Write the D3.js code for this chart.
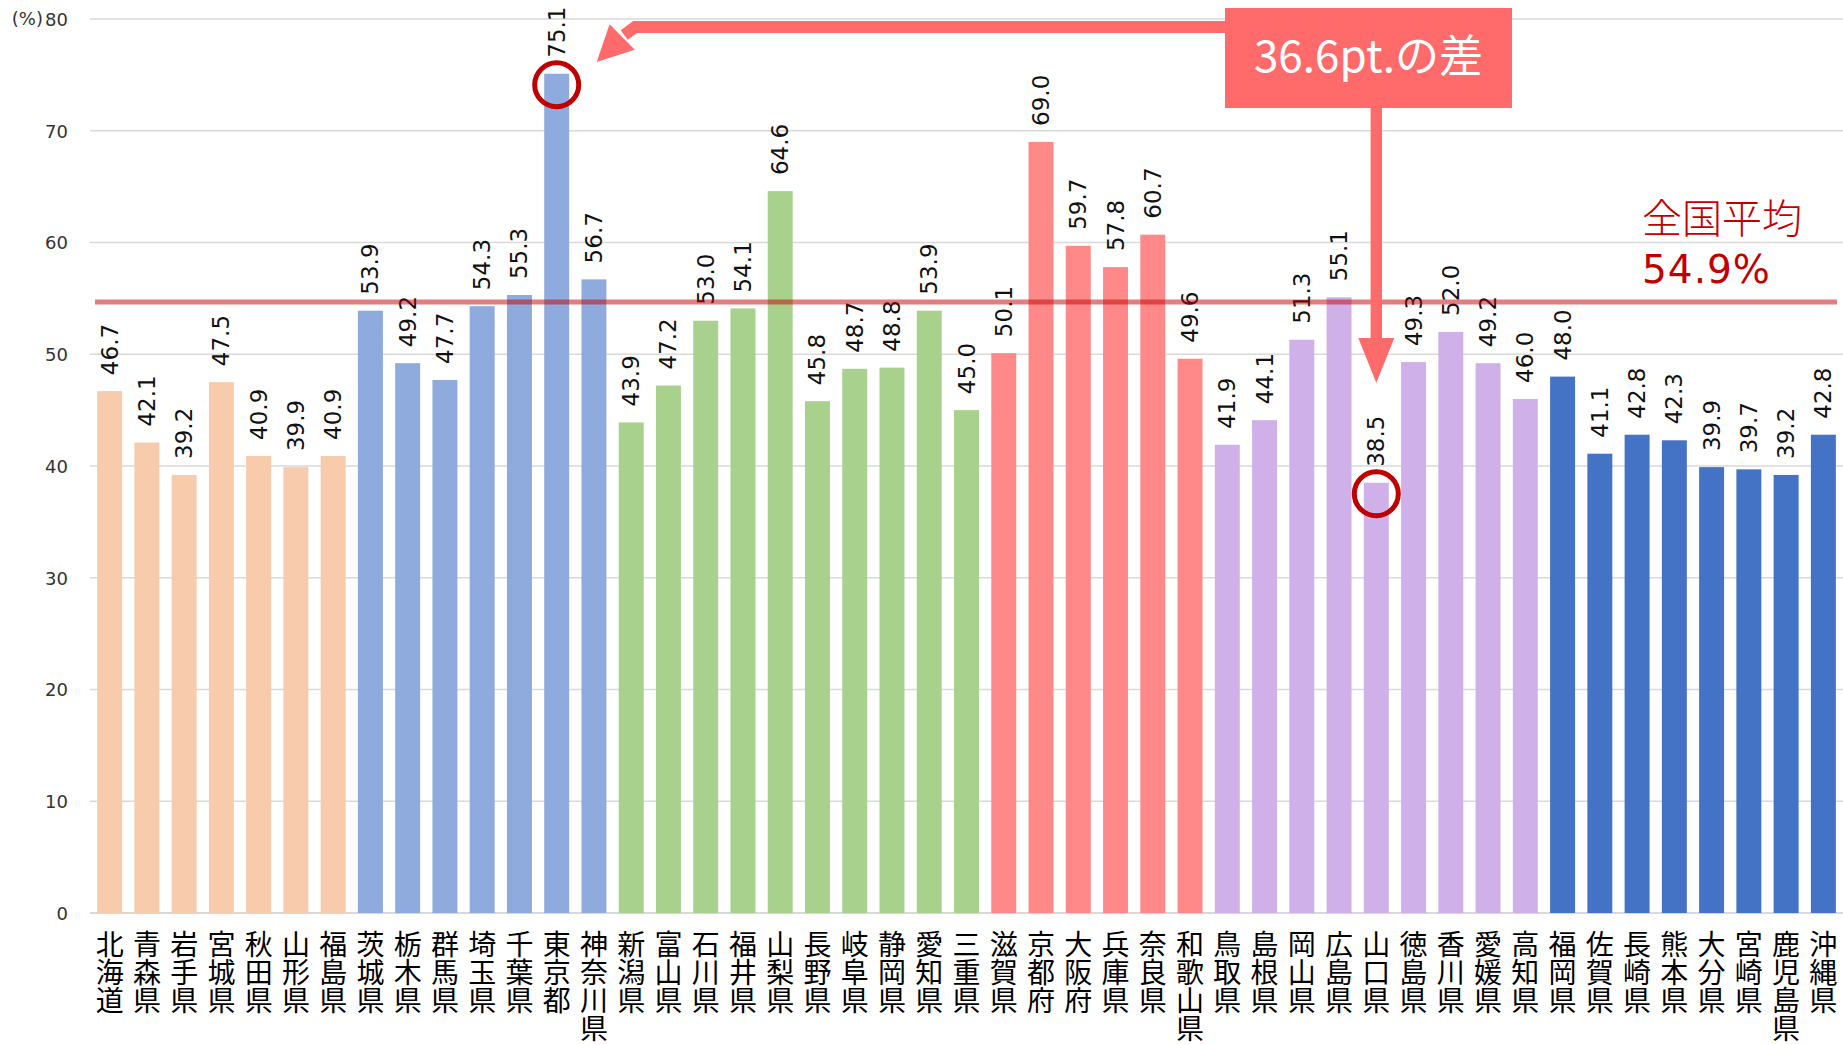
<!DOCTYPE html>
<html><head><meta charset="utf-8">
<script src="https://cdn.jsdelivr.net/npm/d3@7"></script>
<style>
html,body{margin:0;padding:0;background:#fff;}
svg{display:block;}
</style></head>
<body>
<svg id="chart" width="1843" height="1045"></svg>
<script>
// ---- data ----
const prefectures = ["北海道","青森県","岩手県","宮城県","秋田県","山形県","福島県",
  "茨城県","栃木県","群馬県","埼玉県","千葉県","東京都","神奈川県",
  "新潟県","富山県","石川県","福井県","山梨県","長野県","岐阜県","静岡県","愛知県","三重県",
  "滋賀県","京都府","大阪府","兵庫県","奈良県","和歌山県",
  "鳥取県","島根県","岡山県","広島県","山口県","徳島県","香川県","愛媛県","高知県",
  "福岡県","佐賀県","長崎県","熊本県","大分県","宮崎県","鹿児島県","沖縄県"];
const values = [46.7,42.1,39.2,47.5,40.9,39.9,40.9,
  53.9,49.2,47.7,54.3,55.3,75.1,56.7,
  43.9,47.2,53.0,54.1,64.6,45.8,48.7,48.8,53.9,45.0,
  50.1,69.0,59.7,57.8,60.7,49.6,
  41.9,44.1,51.3,55.1,38.5,49.3,52.0,49.2,46.0,
  48.0,41.1,42.8,42.3,39.9,39.7,39.2,42.8];
const regionSizes = [7,7,10,6,9,8];
const regionColors = ["#F8CBAD","#8FAADC","#A9D18E","#FF8989","#D0B0E8","#4472C4"];
const yTicks = [0,10,20,30,40,50,60,70,80];
const nationalAverage = 54.9;
const averageLabel = ["全国平均","54.9%"];
const highlight = ["東京都","山口県"];
const gapLabel = "36.6pt.の差";

// region index per prefecture
const regionOf = [];
regionSizes.forEach((n,i)=>{ for(let k=0;k<n;k++) regionOf.push(i); });

const data = prefectures.map((p,i)=>({name:p, value:values[i], region:regionOf[i]}));

// ---- layout ----
const svg = d3.select("#chart");
const plotLeft = 91, plotRight = 1842, plotTop = 19, plotBottom = 913;

const x = d3.scaleBand().domain(prefectures).range([plotLeft, plotRight])
  .paddingInner(0.33).paddingOuter(0.165);
const y = d3.scaleLinear().domain([0,80]).range([plotBottom, plotTop]);

// gridlines
svg.append("g").selectAll("line").data(yTicks).join("line")
  .attr("x1", 90).attr("x2", 1843)
  .attr("y1", d=>y(d)).attr("y2", d=>y(d))
  .attr("stroke", "#D9D9D9").attr("stroke-width", d=>d===0?2:1.5);

// y axis labels
const yAxis = d3.axisLeft(y).tickValues(yTicks).tickSize(0).tickPadding(0);
const gy = svg.append("g").attr("transform","translate(68,0)").call(yAxis);
gy.select(".domain").remove();
gy.selectAll("text").attr("font-family","'DejaVu Sans', sans-serif")
  .attr("font-size", 18).attr("fill","#333").attr("dy","0.35em");
svg.append("text").attr("x", 43).attr("y", y(80)).attr("dy","0.35em")
  .attr("text-anchor","end").attr("font-family","'DejaVu Sans', sans-serif")
  .attr("font-size", 18).attr("fill","#333").text("(%)");

// bars
svg.append("g").selectAll("rect").data(data).join("rect")
  .attr("x", d=>x(d.name)).attr("width", x.bandwidth())
  .attr("y", d=>y(d.value)).attr("height", d=>y(0)-y(d.value))
  .attr("fill", d=>regionColors[d.region]);

// value labels
svg.append("g").selectAll("text").data(data).join("text")
  .attr("transform", d=>`translate(${x(d.name)+x.bandwidth()/2},${y(d.value)-16}) rotate(-90)`)
  .attr("text-anchor","start").attr("dominant-baseline","central")
  .attr("font-family","'DejaVu Sans', sans-serif").attr("font-size", 23)
  .attr("fill","#111").text(d=>d.value.toFixed(1));

// category labels (vertical)
const xAxis = d3.axisBottom(x).tickSize(0).tickPadding(0);
const gx = svg.append("g").attr("transform",`translate(0,${plotBottom})`).call(xAxis);
gx.select(".domain").remove();
gx.selectAll("text")
  .attr("y", 17).attr("dy", 0).attr("x", 0)
  .attr("text-anchor","start")
  .style("writing-mode","vertical-rl")
  .attr("font-family","'Noto Sans CJK JP', sans-serif")
  .attr("font-size", 28).attr("font-weight", 400).attr("fill","#000");

// national average line
svg.append("line")
  .attr("x1", 95).attr("x2", 1837)
  .attr("y1", y(nationalAverage)+2.5).attr("y2", y(nationalAverage)+2.5)
  .attr("stroke","rgba(192,0,0,0.5)").attr("stroke-width", 5);

svg.append("text").attr("x",1642).attr("y",233)
  .attr("font-family","'Noto Sans CJK JP', sans-serif").attr("font-weight",300)
  .attr("fill","#C00000").attr("font-size", 40).text(averageLabel[0]);
svg.append("text").attr("x",1642).attr("y",283).attr("letter-spacing",1)
  .attr("font-family","'DejaVu Sans', sans-serif")
  .attr("fill","#C00000").attr("font-size", 39).text(averageLabel[1]);

// highlight circles
const hl = data.filter(d=>highlight.includes(d.name));
svg.append("g").selectAll("circle").data(hl).join("circle")
  .attr("cx", d=>x(d.name)+x.bandwidth()/2)
  .attr("cy", d=>y(d.value)+11)
  .attr("r", 22).attr("fill","none")
  .attr("stroke","#C00000").attr("stroke-width",5);

// annotation box & arrows
const annColor = "#FF6B6B";
const boxX = 1225, boxY = 8, boxW = 287, boxH = 100;
const tokyoCx = x("東京都")+x.bandwidth()/2;
const yamaCx = x("山口県")+x.bandwidth()/2;

// horizontal (elbow) arrow to Tokyo
const tip1 = [tokyoCx+40, 62];
const headBase1 = [tip1[0]+25.5, tip1[1]-25];
svg.append("path")
  .attr("d", `M${boxX},27 L${headBase1[0]+13},27 L${headBase1[0]+2},${headBase1[1]-2}`)
  .attr("fill","none").attr("stroke",annColor).attr("stroke-width",12).attr("stroke-linejoin","miter");
{
  const dx = tip1[0]-headBase1[0], dy = tip1[1]-headBase1[1];
  const L = Math.hypot(dx,dy), nx = -dy/L, ny = dx/L, hw = 18;
  svg.append("path").attr("d",
    `M${headBase1[0]+nx*hw},${headBase1[1]+ny*hw} L${tip1[0]},${tip1[1]} L${headBase1[0]-nx*hw},${headBase1[1]-ny*hw} Z`)
    .attr("fill",annColor);
}
// vertical arrow to Yamaguchi
svg.append("rect").attr("x", yamaCx-5.7).attr("width",11.4)
  .attr("y", boxY+boxH-1).attr("height", 338-(boxY+boxH)+2).attr("fill",annColor);
svg.append("path").attr("d", `M${yamaCx-18},338 L${yamaCx+18},338 L${yamaCx},383 Z`).attr("fill",annColor);

svg.append("rect").attr("x",boxX).attr("y",boxY).attr("width",boxW).attr("height",boxH).attr("fill",annColor);
svg.append("text").attr("x", boxX+boxW/2).attr("y", 72).attr("text-anchor","middle")
  .attr("font-family","'Noto Sans CJK JP', sans-serif").attr("font-weight",400)
  .attr("font-size",44).attr("fill","#fff").text(gapLabel);
</script>
</body></html>
